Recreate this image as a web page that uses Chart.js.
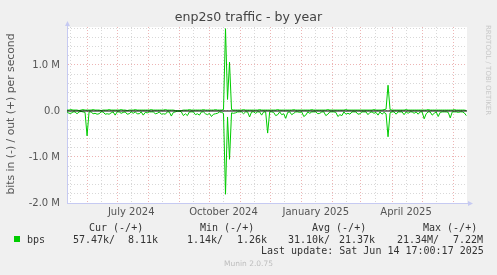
<!DOCTYPE html>
<html>
<head>
<meta charset="utf-8">
<title>enp2s0 traffic - by year</title>
<script src="https://cdn.jsdelivr.net/npm/chart.js@4.4.1/dist/chart.umd.min.js"></script>
<style>
  html, body { margin: 0; padding: 0; background: #F0F0F0; }
  #wrap { position: relative; width: 497px; height: 275px; overflow: hidden; font-family: 'DejaVu Sans', sans-serif; }
  #c { position: absolute; left: 0; top: 0; }
  .t { position: absolute; white-space: pre; line-height: 12px; }
  .mono { font-family: 'DejaVu Sans Mono', monospace; font-size: 10px; color: #333; }
  #title { left: 0; width: 497px; top: 10px; line-height: 14px; text-align: center; font-size: 12.6px; color: #444; }
  #ytitle { left: -89px; top: 108px; width: 200px; text-align: center; font-size: 10.8px; color: #555; transform: rotate(-90deg); }
  #rrd { left: 484px; top: 25px; writing-mode: vertical-rl; font-size: 7px; color: #C8C8C8; line-height: 8px; }
  #munin { left: 0; width: 497px; top: 258px; text-align: center; font-size: 7.5px; color: #BDBDBD; }
  #swatch { position: absolute; left: 14px; top: 236px; width: 6px; height: 6px; background: #00CC00; }
</style>
</head>
<body>
<div id="wrap">
  <canvas id="c" width="497" height="275"></canvas>
  <div class="t" id="title">enp2s0 traffic - by year</div>
  <div class="t" id="ytitle">bits in (-) / out (+) per second</div>
  <div class="t" id="rrd">RRDTOOL / TOBI OETIKER</div>

  <div class="t mono" style="left:89px;top:222px">Cur (-/+)</div>
  <div class="t mono" style="left:200px;top:222px">Min (-/+)</div>
  <div class="t mono" style="left:312px;top:222px">Avg (-/+)</div>
  <div class="t mono" style="left:423px;top:222px">Max (-/+)</div>

  <div id="swatch"></div>
  <div class="t mono" style="left:27px;top:234px">bps</div>
  <div class="t mono" style="left:73px;top:234px">57.47k/</div>
  <div class="t mono" style="left:128px;top:234px">8.11k</div>
  <div class="t mono" style="left:187px;top:234px">1.14k/</div>
  <div class="t mono" style="left:237px;top:234px">1.26k</div>
  <div class="t mono" style="left:288px;top:234px">31.10k/</div>
  <div class="t mono" style="left:339px;top:234px">21.37k</div>
  <div class="t mono" style="left:397px;top:234px">21.34M/</div>
  <div class="t mono" style="left:453px;top:234px">7.22M</div>

  <div class="t mono" style="left:261px;top:245px">Last update: Sat Jun 14 17:00:17 2025</div>
  <div class="t" id="munin">Munin 2.0.75</div>
</div>
<script>
// x = days since 2024-05-12 (left edge); right edge = last update, Jun 14 2025 17:00
const dayMin = 0;
const dayMax = 398.7;
const sampleDays = Array.from({length: 200}, (_, i) => i * 2);

// Mbit/s (in is drawn below zero)
const bpsIn = [
  0.02,0.05,0.05,0.02,0.02,0.06,0.02,0.01,0.02,0.03,
  0.54,0.02,0.02,0.06,0.05,0.07,0.06,0.02,0.02,0.07,
  0.06,0.07,0.04,0.02,0.09,0.02,0.02,0.05,0.03,0.02,
  0.07,0.06,0.02,0.05,0.02,0.06,0.06,0.02,0.09,0.03,
  0.04,0.02,0.02,0.02,0.06,0.05,0.02,0.07,0.06,0.07,
  0.02,0.02,0.11,0.03,0.02,0.00,0.00,0.02,0.10,0.06,
  0.10,0.02,0.02,0.02,0.08,0.06,0.09,0.02,0.02,0.06,
  0.08,0.05,0.12,0.07,0.06,0.05,0.02,0.03,0.05,1.81,
  0.13,1.05,0.04,0.05,0.04,0.02,0.02,0.02,0.06,0.02,
  0.02,0.13,0.02,0.02,0.05,0.02,0.02,0.09,0.02,0.02,
  0.48,0.02,0.02,0.03,0.10,0.08,0.02,0.08,0.06,0.16,
  0.03,0.02,0.08,0.05,0.02,0.02,0.03,0.02,0.12,0.09,
  0.02,0.05,0.02,0.02,0.02,0.06,0.05,0.02,0.02,0.10,
  0.07,0.02,0.02,0.02,0.03,0.12,0.08,0.10,0.02,0.07,
  0.05,0.07,0.02,0.02,0.02,0.07,0.06,0.02,0.02,0.02,
  0.08,0.03,0.02,0.05,0.03,0.09,0.02,0.07,0.03,0.06,
  0.56,0.04,0.02,0.02,0.07,0.02,0.02,0.02,0.08,0.02,
  0.05,0.02,0.02,0.05,0.02,0.07,0.02,0.02,0.17,0.06,
  0.02,0.02,0.09,0.05,0.02,0.12,0.03,0.02,0.02,0.02,
  0.03,0.15,0.02,0.02,0.02,0.03,0.02,0.02,0.04,0.10
];
const bpsOut = [
  0.02,0.02,0.03,0.02,0.02,0.02,0.01,0.02,0.03,0.02,
  0.02,0.02,0.02,0.03,0.02,0.02,0.02,0.01,0.02,0.02,
  0.02,0.03,0.02,0.02,0.02,0.02,0.02,0.03,0.02,0.02,
  0.01,0.02,0.02,0.02,0.03,0.02,0.02,0.02,0.02,0.02,
  0.02,0.02,0.03,0.02,0.02,0.02,0.02,0.02,0.02,0.03,
  0.02,0.02,0.02,0.02,0.01,0.00,0.00,0.01,0.02,0.02,
  0.02,0.03,0.02,0.02,0.02,0.02,0.02,0.02,0.03,0.02,
  0.02,0.02,0.02,0.02,0.03,0.02,0.02,0.02,0.03,1.79,
  0.25,1.06,0.03,0.02,0.02,0.02,0.02,0.02,0.03,0.02,
  0.02,0.02,0.02,0.02,0.02,0.02,0.03,0.02,0.02,0.02,
  0.02,0.02,0.02,0.02,0.02,0.03,0.02,0.02,0.02,0.02,
  0.02,0.02,0.02,0.03,0.02,0.02,0.02,0.02,0.02,0.02,
  0.02,0.02,0.03,0.02,0.02,0.02,0.02,0.02,0.02,0.02,
  0.03,0.02,0.02,0.02,0.02,0.02,0.02,0.02,0.02,0.03,
  0.02,0.02,0.02,0.02,0.02,0.02,0.02,0.02,0.02,0.02,
  0.02,0.02,0.02,0.03,0.02,0.02,0.02,0.02,0.03,0.04,
  0.56,0.03,0.02,0.02,0.02,0.02,0.02,0.02,0.02,0.03,
  0.02,0.02,0.02,0.02,0.02,0.02,0.02,0.02,0.02,0.02,
  0.03,0.02,0.02,0.02,0.02,0.02,0.02,0.02,0.02,0.02,
  0.02,0.02,0.02,0.03,0.02,0.02,0.02,0.02,0.02,0.01
];

// x grid: month starts (red) and the 15th (grey); labels on the 15th
const monthStartDays = [20, 50, 81, 112, 142, 173, 203, 234, 265, 293, 324, 354, 385];
const midMonthDays = [3, 34, 64, 95, 126, 156, 187, 217, 248, 279, 307, 338, 368];
const xLabelDays = [64, 156, 248, 338];
const xTickLabels = ['July 2024', 'October 2024', 'January 2025', 'April 2025'];

// y axis in Mbit/s
const yMin = -2.0;
const yMax = 1.826;
const yMajorValues = [-2, -1, 0, 1];
const yTickLabels = ['-2.0 M', '-1.0 M', '0.0', '1.0 M'];

const GREEN = '#00CC00';
const AXIS = '#C6CAF2';
const MAJOR_GRID = '#EDB4B4';
const MINOR_GRID = '#D8D8D8';

Chart.defaults.font.family = "'DejaVu Sans', sans-serif";
Chart.defaults.font.size = 10;
Chart.defaults.color = '#555';

const frame = {
    id: 'frame',
    beforeDraw(chart) {
        const {ctx, chartArea: a} = chart;
        ctx.save();
        ctx.fillStyle = '#FFFFFF';
        ctx.fillRect(a.left, a.top, a.right - a.left, a.bottom - a.top);
        ctx.restore();
    },
    afterDraw(chart) {
        // axis arrows, rrdtool style
        const {ctx, chartArea: a} = chart;
        ctx.save();
        ctx.strokeStyle = AXIS;
        ctx.fillStyle = AXIS;
        ctx.lineWidth = 1;
        ctx.beginPath();
        ctx.moveTo(a.left + 0.5, a.top);
        ctx.lineTo(a.left + 0.5, a.top - 2);
        ctx.moveTo(a.right, a.bottom + 0.5);
        ctx.lineTo(a.right + 2, a.bottom + 0.5);
        ctx.stroke();
        ctx.beginPath();
        ctx.moveTo(a.left + 0.5, a.top - 6);
        ctx.lineTo(a.left - 2, a.top - 1);
        ctx.lineTo(a.left + 3, a.top - 1);
        ctx.closePath();
        ctx.fill();
        ctx.beginPath();
        ctx.moveTo(a.right + 6, a.bottom + 0.5);
        ctx.lineTo(a.right + 1, a.bottom - 2);
        ctx.lineTo(a.right + 1, a.bottom + 3);
        ctx.closePath();
        ctx.fill();
        ctx.restore();
    }
};

const ctx = document.getElementById('c').getContext('2d');
const chart = new Chart(ctx, {
    type: 'line',
    data: {
        datasets: [
            {
                // zero rule, drawn on top
                data: [{x: dayMin, y: 0}, {x: dayMax, y: 0}],
                borderColor: '#000000',
                borderWidth: 1,
                pointRadius: 0
            },
            {
                data: sampleDays.map((d, i) => ({x: d, y: bpsOut[i]})),
                borderColor: GREEN,
                borderWidth: 1,
                pointRadius: 0,
                tension: 0
            },
            {
                data: sampleDays.map((d, i) => ({x: d, y: -bpsIn[i]})),
                borderColor: GREEN,
                borderWidth: 1,
                pointRadius: 0,
                tension: 0
            }
        ]
    },
    options: {
        responsive: false,
        animation: false,
        devicePixelRatio: 1,
        layout: { padding: { left: 0, right: 30, top: 27, bottom: 52 } },
        plugins: { legend: { display: false }, tooltip: { enabled: false } },
        scales: {
            x: {
                type: 'linear',
                min: dayMin,
                max: dayMax,
                afterFit: (s) => { s.height = 20; },
                afterBuildTicks: (s) => {
                    s.ticks = monthStartDays.concat(midMonthDays)
                        .sort((a, b) => a - b)
                        .map(v => ({value: v}));
                },
                grid: {
                    drawTicks: false,
                    lineWidth: 1,
                    color: (c) => (c.tick && monthStartDays.includes(c.tick.value)) ? MAJOR_GRID : MINOR_GRID
                },
                border: { display: true, color: AXIS, width: 1, dash: [1, 2] },
                ticks: {
                    autoSkip: false,
                    maxRotation: 0,
                    minRotation: 0,
                    padding: 3,
                    color: '#555',
                    callback: (v) => {
                        const k = xLabelDays.indexOf(v);
                        return k >= 0 ? xTickLabels[k] : '';
                    }
                }
            },
            y: {
                min: yMin,
                max: yMax,
                afterFit: (s) => { s.width = 67; },
                afterBuildTicks: (s) => {
                    const t = [];
                    for (let k = -20; k <= 18; k += 2) t.push({value: k / 10});
                    s.ticks = t;
                },
                grid: {
                    drawTicks: false,
                    lineWidth: 1,
                    color: (c) => (c.tick && yMajorValues.includes(c.tick.value)) ? MAJOR_GRID : MINOR_GRID
                },
                border: { display: true, color: AXIS, width: 1, dash: [1, 2] },
                ticks: {
                    autoSkip: false,
                    padding: 7,
                    color: '#555',
                    callback: (v) => {
                        const k = yMajorValues.indexOf(v);
                        return k >= 0 ? yTickLabels[k] : '';
                    }
                }
            }
        }
    },
    plugins: [frame]
});
</script>
</body>
</html>
